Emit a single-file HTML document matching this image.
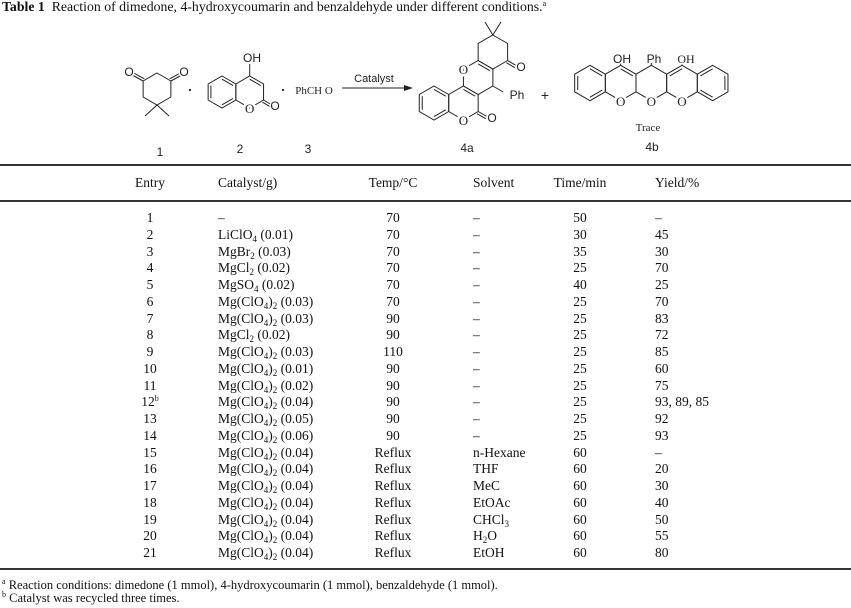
<!DOCTYPE html>
<html><head><meta charset="utf-8"><style>
html,body{margin:0;padding:0;background:#fff;}
body{width:851px;height:608px;position:relative;overflow:hidden;font-family:"Liberation Serif",serif;color:#111;}
.t{position:absolute;white-space:nowrap;}
.title{left:2px;top:-1px;font-size:13.8px;line-height:16px;}
.hr{position:absolute;left:0;width:851px;background:#333;}
.row{position:absolute;left:0;width:851px;height:16px;font-size:13.5px;line-height:16px;}
.row span{position:absolute;top:0;white-space:nowrap;}
.e{left:120px;width:60px;text-align:center;}
.c{left:218px;}
.tp{left:363px;width:60px;text-align:center;}
.s{left:473px;}
.tm{left:550px;width:60px;text-align:center;}
.y{left:655px;}
sub{font-size:9px;vertical-align:-3px;line-height:0;}
sup{font-size:8px;vertical-align:5px;line-height:0;}
.fn{position:absolute;left:2px;font-size:12.5px;line-height:13px;}
</style></head><body>
<div class="t title"><b>Table 1</b>&nbsp; Reaction of dimedone, 4-hydroxycoumarin and benzaldehyde under different conditions.<sup>a</sup></div>

<svg width="851" height="160" style="position:absolute;left:0;top:0" stroke="#222" fill="none" stroke-width="1">
<!-- dimedone -->
<g transform="translate(157,89)"><polygon points="0,-16 13.86,-8 13.86,8 0,16 -13.86,8 -13.86,-8"/></g>
<line x1="143.1" y1="81" x2="133" y2="75.5"/><line x1="144.3" y1="78.8" x2="134.3" y2="73.3"/>
<line x1="170.9" y1="81" x2="181" y2="75.5"/><line x1="169.7" y1="78.8" x2="179.7" y2="73.3"/>
<line x1="157" y1="105" x2="145" y2="116"/><line x1="157" y1="105" x2="169" y2="116"/>
<!-- coumarin -->
<g transform="translate(222,92)"><polygon points="0,-16 13.86,-8 13.86,8 0,16 -13.86,8 -13.86,-8"/>
<line x1="0" y1="-12.8" x2="11.09" y2="-6.4"/><line x1="11.09" y1="6.4" x2="0" y2="12.8"/><line x1="-11.09" y1="6.4" x2="-11.09" y2="-6.4"/></g>
<g transform="translate(249.7,92)"><polygon points="0,-16 13.86,-8 13.86,8 0,16 -13.86,8 -13.86,-8"/>
<line x1="0" y1="-12.8" x2="11.09" y2="-6.4"/></g>
<line x1="249.7" y1="76" x2="249.7" y2="64"/>
<line x1="263.6" y1="100" x2="271" y2="104.5"/><line x1="262.5" y1="102.2" x2="269.8" y2="106.6"/>
<circle cx="190" cy="90" r="1.1" fill="#222" stroke="none"/>
<circle cx="283" cy="90" r="1.1" fill="#222" stroke="none"/>
<line x1="342" y1="88" x2="406" y2="88"/>
<polygon points="413,88 404,85 404,91" fill="#222" stroke="none"/>
<!-- 4a -->
<g transform="translate(434,103) scale(1.0625)"><polygon vector-effect="non-scaling-stroke" points="0,-16 13.86,-8 13.86,8 0,16 -13.86,8 -13.86,-8"/>
<line vector-effect="non-scaling-stroke" x1="0" y1="-12.8" x2="11.09" y2="-6.4"/><line vector-effect="non-scaling-stroke" x1="11.09" y1="6.4" x2="0" y2="12.8"/><line vector-effect="non-scaling-stroke" x1="-11.09" y1="6.4" x2="-11.09" y2="-6.4"/></g>
<g transform="translate(463.44,103) scale(1.0625)"><polygon vector-effect="non-scaling-stroke" points="0,-16 13.86,-8 13.86,8 0,16 -13.86,8 -13.86,-8"/>
<line vector-effect="non-scaling-stroke" x1="0" y1="-12.8" x2="11.09" y2="-6.4"/></g>
<g transform="translate(478.16,77.5) scale(1.0625)"><polygon vector-effect="non-scaling-stroke" points="0,-16 13.86,-8 13.86,8 0,16 -13.86,8 -13.86,-8"/>
<line vector-effect="non-scaling-stroke" x1="0" y1="-12.8" x2="11.09" y2="-6.4"/></g>
<g transform="translate(492.88,52) scale(1.0625)"><polygon vector-effect="non-scaling-stroke" points="0,-16 13.86,-8 13.86,8 0,16 -13.86,8 -13.86,-8"/></g>
<line x1="478.2" y1="111.5" x2="487" y2="116.5"/><line x1="477" y1="113.7" x2="485.8" y2="118.7"/>
<line x1="507.6" y1="60.5" x2="516" y2="65.5"/><line x1="506.4" y1="62.7" x2="514.8" y2="67.7"/>
<line x1="492.9" y1="86" x2="503" y2="92"/>
<line x1="492.9" y1="35" x2="485" y2="22"/><line x1="492.9" y1="35" x2="501" y2="22"/>
<!-- 4b -->
<g transform="translate(590,83) scale(1.106)"><polygon vector-effect="non-scaling-stroke" points="0,-16 13.86,-8 13.86,8 0,16 -13.86,8 -13.86,-8"/>
<line vector-effect="non-scaling-stroke" x1="0" y1="-12.8" x2="11.09" y2="-6.4"/><line vector-effect="non-scaling-stroke" x1="11.09" y1="6.4" x2="0" y2="12.8"/><line vector-effect="non-scaling-stroke" x1="-11.09" y1="6.4" x2="-11.09" y2="-6.4"/></g>
<g transform="translate(620.66,83) scale(1.106)"><polygon vector-effect="non-scaling-stroke" points="0,-16 13.86,-8 13.86,8 0,16 -13.86,8 -13.86,-8"/>
<line vector-effect="non-scaling-stroke" x1="0" y1="-12.8" x2="11.09" y2="-6.4"/></g>
<g transform="translate(651.32,83) scale(1.106)"><polygon vector-effect="non-scaling-stroke" points="0,-16 13.86,-8 13.86,8 0,16 -13.86,8 -13.86,-8"/></g>
<g transform="translate(681.98,83) scale(1.106)"><polygon vector-effect="non-scaling-stroke" points="0,-16 13.86,-8 13.86,8 0,16 -13.86,8 -13.86,-8"/>
<line vector-effect="non-scaling-stroke" x1="0" y1="-12.8" x2="-11.09" y2="-6.4"/></g>
<g transform="translate(712.64,83) scale(1.106)"><polygon vector-effect="non-scaling-stroke" points="0,-16 13.86,-8 13.86,8 0,16 -13.86,8 -13.86,-8"/>
<line vector-effect="non-scaling-stroke" x1="0" y1="-12.8" x2="-11.09" y2="-6.4"/><line vector-effect="non-scaling-stroke" x1="11.09" y1="-6.4" x2="11.09" y2="6.4"/><line vector-effect="non-scaling-stroke" x1="0" y1="12.8" x2="-11.09" y2="6.4"/></g>
<line x1="620.7" y1="65.3" x2="620.7" y2="63"/><line x1="651.3" y1="65.3" x2="651.3" y2="63"/><line x1="682" y1="65.3" x2="682" y2="63"/>

<g fill="#222" stroke="#fff" stroke-width="3" paint-order="stroke" font-size="12" text-anchor="middle" font-family="Liberation Sans, sans-serif">
<text x="129" y="76">O</text><text x="184" y="76">O</text>
<text x="252" y="62">OH</text>
<text x="275" y="110">O</text>
<text x="492" y="122">O</text><text x="521" y="71">O</text>
<text x="517" y="99">Ph</text>
<text x="622" y="63">OH</text><text x="654" y="63">Ph</text>
<text x="686" y="63" font-family="Liberation Serif, serif">OH</text>
</g>
<g fill="#222" stroke="#fff" stroke-width="5" paint-order="stroke" font-size="13" text-anchor="middle" font-family="Liberation Serif, serif">
<text x="249.7" y="113">O</text>
<text x="463.5" y="74">O</text><text x="463.4" y="125">O</text>
<text x="620.7" y="106">O</text><text x="651.3" y="106">O</text><text x="682" y="106">O</text>
</g>
<g fill="#222" stroke="none" font-size="11" text-anchor="middle">
<text x="374" y="82" font-family="Liberation Sans, sans-serif">Catalyst</text>
<text x="314" y="94" font-family="Liberation Serif, serif">PhCH O</text>
<text x="648" y="131" font-family="Liberation Serif, serif">Trace</text>
</g>
<g fill="#222" stroke="none" font-size="12" text-anchor="middle" font-family="Liberation Sans, sans-serif">
<text x="160" y="156">1</text><text x="240" y="153">2</text><text x="308" y="153">3</text>
<text x="467" y="152">4a</text><text x="652" y="151">4b</text>
</g>
<text x="545" y="100" font-size="14" fill="#222" stroke="none" text-anchor="middle" font-family="Liberation Sans, sans-serif">+</text>
</svg>

<div class="hr" style="top:164px;height:2px"></div>
<div class="hr" style="top:200px;height:1.5px"></div>
<div class="hr" style="top:568px;height:1.5px"></div>

<div class="row" style="top:175px"><span class="e">Entry</span><span class="c">Catalyst/g)</span><span class="tp">Temp/°C</span><span class="s">Solvent</span><span class="tm">Time/min</span><span class="y">Yield/%</span></div>

<div class="row" style="top:210px"><span class="e">1</span><span class="c">–</span><span class="tp">70</span><span class="s">–</span><span class="tm">50</span><span class="y">–</span></div>
<div class="row" style="top:227px"><span class="e">2</span><span class="c">LiClO<sub>4</sub> (0.01)</span><span class="tp">70</span><span class="s">–</span><span class="tm">30</span><span class="y">45</span></div>
<div class="row" style="top:244px"><span class="e">3</span><span class="c">MgBr<sub>2</sub> (0.03)</span><span class="tp">70</span><span class="s">–</span><span class="tm">35</span><span class="y">30</span></div>
<div class="row" style="top:260px"><span class="e">4</span><span class="c">MgCl<sub>2</sub> (0.02)</span><span class="tp">70</span><span class="s">–</span><span class="tm">25</span><span class="y">70</span></div>
<div class="row" style="top:277px"><span class="e">5</span><span class="c">MgSO<sub>4</sub> (0.02)</span><span class="tp">70</span><span class="s">–</span><span class="tm">40</span><span class="y">25</span></div>
<div class="row" style="top:294px"><span class="e">6</span><span class="c">Mg(ClO<sub>4</sub>)<sub>2</sub> (0.03)</span><span class="tp">70</span><span class="s">–</span><span class="tm">25</span><span class="y">70</span></div>
<div class="row" style="top:311px"><span class="e">7</span><span class="c">Mg(ClO<sub>4</sub>)<sub>2</sub> (0.03)</span><span class="tp">90</span><span class="s">–</span><span class="tm">25</span><span class="y">83</span></div>
<div class="row" style="top:327px"><span class="e">8</span><span class="c">MgCl<sub>2</sub> (0.02)</span><span class="tp">90</span><span class="s">–</span><span class="tm">25</span><span class="y">72</span></div>
<div class="row" style="top:344px"><span class="e">9</span><span class="c">Mg(ClO<sub>4</sub>)<sub>2</sub> (0.03)</span><span class="tp">110</span><span class="s">–</span><span class="tm">25</span><span class="y">85</span></div>
<div class="row" style="top:361px"><span class="e">10</span><span class="c">Mg(ClO<sub>4</sub>)<sub>2</sub> (0.01)</span><span class="tp">90</span><span class="s">–</span><span class="tm">25</span><span class="y">60</span></div>
<div class="row" style="top:378px"><span class="e">11</span><span class="c">Mg(ClO<sub>4</sub>)<sub>2</sub> (0.02)</span><span class="tp">90</span><span class="s">–</span><span class="tm">25</span><span class="y">75</span></div>
<div class="row" style="top:394px"><span class="e">12<sup>b</sup></span><span class="c">Mg(ClO<sub>4</sub>)<sub>2</sub> (0.04)</span><span class="tp">90</span><span class="s">–</span><span class="tm">25</span><span class="y">93, 89, 85</span></div>
<div class="row" style="top:411px"><span class="e">13</span><span class="c">Mg(ClO<sub>4</sub>)<sub>2</sub> (0.05)</span><span class="tp">90</span><span class="s">–</span><span class="tm">25</span><span class="y">92</span></div>
<div class="row" style="top:428px"><span class="e">14</span><span class="c">Mg(ClO<sub>4</sub>)<sub>2</sub> (0.06)</span><span class="tp">90</span><span class="s">–</span><span class="tm">25</span><span class="y">93</span></div>
<div class="row" style="top:445px"><span class="e">15</span><span class="c">Mg(ClO<sub>4</sub>)<sub>2</sub> (0.04)</span><span class="tp">Reflux</span><span class="s">n-Hexane</span><span class="tm">60</span><span class="y">–</span></div>
<div class="row" style="top:461px"><span class="e">16</span><span class="c">Mg(ClO<sub>4</sub>)<sub>2</sub> (0.04)</span><span class="tp">Reflux</span><span class="s">THF</span><span class="tm">60</span><span class="y">20</span></div>
<div class="row" style="top:478px"><span class="e">17</span><span class="c">Mg(ClO<sub>4</sub>)<sub>2</sub> (0.04)</span><span class="tp">Reflux</span><span class="s">MeC</span><span class="tm">60</span><span class="y">30</span></div>
<div class="row" style="top:495px"><span class="e">18</span><span class="c">Mg(ClO<sub>4</sub>)<sub>2</sub> (0.04)</span><span class="tp">Reflux</span><span class="s">EtOAc</span><span class="tm">60</span><span class="y">40</span></div>
<div class="row" style="top:512px"><span class="e">19</span><span class="c">Mg(ClO<sub>4</sub>)<sub>2</sub> (0.04)</span><span class="tp">Reflux</span><span class="s">CHCl<sub>3</sub></span><span class="tm">60</span><span class="y">50</span></div>
<div class="row" style="top:528px"><span class="e">20</span><span class="c">Mg(ClO<sub>4</sub>)<sub>2</sub> (0.04)</span><span class="tp">Reflux</span><span class="s">H<sub>2</sub>O</span><span class="tm">60</span><span class="y">55</span></div>
<div class="row" style="top:545px"><span class="e">21</span><span class="c">Mg(ClO<sub>4</sub>)<sub>2</sub> (0.04)</span><span class="tp">Reflux</span><span class="s">EtOH</span><span class="tm">60</span><span class="y">80</span></div>

<div class="fn" style="top:579px"><sup>a</sup> Reaction conditions: dimedone (1 mmol), 4-hydroxycoumarin (1 mmol), benzaldehyde (1 mmol).</div>
<div class="fn" style="top:592px"><sup>b</sup> Catalyst was recycled three times.</div>
</body></html>
